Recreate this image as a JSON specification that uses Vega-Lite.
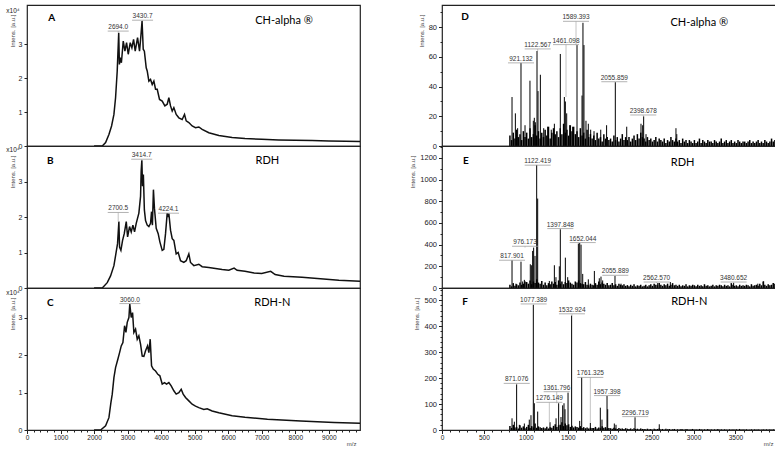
{
"$schema":"https://vega.github.io/schema/vega-lite/v6.json",
"background":"white",
"padding":{"left":5,"top":4,"right":4,"bottom":0},
"spacing":45,
"config":{
 "view":{"stroke":"#222","strokeWidth":1.2},
 "concat":{"spacing":0},
 "axis":{"labelFont":"Liberation Sans","titleFont":"Liberation Sans","labelColor":"#222","titleColor":"#444","titleFontWeight":"normal","tickColor":"#222","domain":false,"grid":false,"labelFlush":false,"labelOverlap":false},
 "text":{"font":"Liberation Sans"}
},
"datasets":{
 "left":[
  {"p":"A","x":2000,"y":0},{"p":"A","x":2244,"y":0},{"p":"A","x":2344,"y":0.1},{"p":"A","x":2443,"y":0.34},{"p":"A","x":2522,"y":0.59},{"p":"A","x":2592,"y":0.93},{"p":"A","x":2641,"y":1.42},{"p":"A","x":2690,"y":2.2},{"p":"A","x":2735,"y":3.33},{"p":"A","x":2755,"y":2.4},{"p":"A","x":2780,"y":2.6},{"p":"A","x":2815,"y":2.45},{"p":"A","x":2870,"y":3.09},{"p":"A","x":2920,"y":2.79},{"p":"A","x":2969,"y":3.04},{"p":"A","x":3019,"y":2.7},{"p":"A","x":3078,"y":3.04},{"p":"A","x":3128,"y":2.89},{"p":"A","x":3178,"y":3.14},{"p":"A","x":3227,"y":2.79},{"p":"A","x":3297,"y":3.19},{"p":"A","x":3356,"y":2.79},{"p":"A","x":3396,"y":3.24},{"p":"A","x":3431,"y":3.68},{"p":"A","x":3466,"y":2.85},{"p":"A","x":3500,"y":2.79},{"p":"A","x":3555,"y":2.3},{"p":"A","x":3585,"y":2.21},{"p":"A","x":3634,"y":1.91},{"p":"A","x":3684,"y":1.96},{"p":"A","x":3734,"y":1.81},{"p":"A","x":3783,"y":1.91},{"p":"A","x":3833,"y":1.67},{"p":"A","x":3883,"y":1.67},{"p":"A","x":3952,"y":1.37},{"p":"A","x":4032,"y":1.32},{"p":"A","x":4111,"y":1.18},{"p":"A","x":4181,"y":1.23},{"p":"A","x":4230,"y":1.42},{"p":"A","x":4280,"y":1.18},{"p":"A","x":4330,"y":1.03},{"p":"A","x":4379,"y":1.13},{"p":"A","x":4449,"y":0.93},{"p":"A","x":4528,"y":0.83},{"p":"A","x":4627,"y":0.78},{"p":"A","x":4697,"y":0.93},{"p":"A","x":4747,"y":0.74},{"p":"A","x":4826,"y":0.69},{"p":"A","x":4925,"y":0.59},{"p":"A","x":5025,"y":0.54},{"p":"A","x":5124,"y":0.56},{"p":"A","x":5223,"y":0.49},{"p":"A","x":5422,"y":0.39},{"p":"A","x":5720,"y":0.31},{"p":"A","x":6117,"y":0.25},{"p":"A","x":6500,"y":0.22},{"p":"A","x":7000,"y":0.2},{"p":"A","x":7500,"y":0.18},{"p":"A","x":8000,"y":0.17},{"p":"A","x":8500,"y":0.16},{"p":"A","x":9000,"y":0.15},{"p":"A","x":9500,"y":0.14},{"p":"A","x":9930,"y":0.13},
  {"p":"B","x":2000,"y":0},{"p":"B","x":2244,"y":0},{"p":"B","x":2393,"y":0.15},{"p":"B","x":2492,"y":0.34},{"p":"B","x":2592,"y":0.63},{"p":"B","x":2650,"y":0.96},{"p":"B","x":2700,"y":1.25},{"p":"B","x":2740,"y":1.87},{"p":"B","x":2760,"y":1.15},{"p":"B","x":2800,"y":1.06},{"p":"B","x":2850,"y":1.34},{"p":"B","x":2900,"y":1.53},{"p":"B","x":2960,"y":1.87},{"p":"B","x":3000,"y":1.44},{"p":"B","x":3058,"y":1.73},{"p":"B","x":3108,"y":1.58},{"p":"B","x":3158,"y":1.77},{"p":"B","x":3207,"y":1.58},{"p":"B","x":3257,"y":1.82},{"p":"B","x":3336,"y":2.11},{"p":"B","x":3386,"y":2.58},{"p":"B","x":3405,"y":3.3},{"p":"B","x":3425,"y":3.6},{"p":"B","x":3445,"y":2.87},{"p":"B","x":3470,"y":3.2},{"p":"B","x":3500,"y":2.2},{"p":"B","x":3535,"y":1.9},{"p":"B","x":3585,"y":1.77},{"p":"B","x":3634,"y":1.73},{"p":"B","x":3684,"y":1.82},{"p":"B","x":3714,"y":2.15},{"p":"B","x":3740,"y":1.77},{"p":"B","x":3770,"y":2.77},{"p":"B","x":3800,"y":2.25},{"p":"B","x":3853,"y":1.68},{"p":"B","x":3912,"y":1.53},{"p":"B","x":3962,"y":1.3},{"p":"B","x":4032,"y":1.06},{"p":"B","x":4081,"y":1.09},{"p":"B","x":4131,"y":1.53},{"p":"B","x":4181,"y":2.11},{"p":"B","x":4205,"y":2.0},{"p":"B","x":4230,"y":2.1},{"p":"B","x":4280,"y":1.63},{"p":"B","x":4330,"y":1.39},{"p":"B","x":4379,"y":1.34},{"p":"B","x":4449,"y":0.96},{"p":"B","x":4508,"y":1.0},{"p":"B","x":4578,"y":0.77},{"p":"B","x":4677,"y":0.72},{"p":"B","x":4747,"y":0.77},{"p":"B","x":4826,"y":0.96},{"p":"B","x":4876,"y":0.72},{"p":"B","x":4975,"y":0.63},{"p":"B","x":5124,"y":0.67},{"p":"B","x":5223,"y":0.6},{"p":"B","x":5422,"y":0.58},{"p":"B","x":5620,"y":0.55},{"p":"B","x":5819,"y":0.52},{"p":"B","x":6018,"y":0.5},{"p":"B","x":6176,"y":0.56},{"p":"B","x":6266,"y":0.5},{"p":"B","x":6500,"y":0.47},{"p":"B","x":6772,"y":0.42},{"p":"B","x":7000,"y":0.41},{"p":"B","x":7268,"y":0.47},{"p":"B","x":7400,"y":0.38},{"p":"B","x":7665,"y":0.33},{"p":"B","x":8200,"y":0.3},{"p":"B","x":8659,"y":0.27},{"p":"B","x":9300,"y":0.22},{"p":"B","x":9930,"y":0.19},
  {"p":"C","x":2000,"y":0},{"p":"C","x":2195,"y":0},{"p":"C","x":2344,"y":0.11},{"p":"C","x":2443,"y":0.33},{"p":"C","x":2502,"y":0.73},{"p":"C","x":2542,"y":0.96},{"p":"C","x":2592,"y":1.4},{"p":"C","x":2641,"y":1.67},{"p":"C","x":2711,"y":1.9},{"p":"C","x":2761,"y":2.07},{"p":"C","x":2810,"y":2.25},{"p":"C","x":2860,"y":2.34},{"p":"C","x":2910,"y":2.79},{"p":"C","x":2950,"y":2.61},{"p":"C","x":2989,"y":2.88},{"p":"C","x":3039,"y":3.01},{"p":"C","x":3065,"y":3.37},{"p":"C","x":3108,"y":3.01},{"p":"C","x":3148,"y":3.14},{"p":"C","x":3187,"y":2.61},{"p":"C","x":3237,"y":2.7},{"p":"C","x":3287,"y":2.43},{"p":"C","x":3336,"y":2.52},{"p":"C","x":3386,"y":2.3},{"p":"C","x":3436,"y":1.98},{"p":"C","x":3485,"y":1.97},{"p":"C","x":3535,"y":2.12},{"p":"C","x":3595,"y":2.25},{"p":"C","x":3634,"y":2.07},{"p":"C","x":3674,"y":2.43},{"p":"C","x":3714,"y":1.72},{"p":"C","x":3764,"y":1.63},{"p":"C","x":3833,"y":1.58},{"p":"C","x":3902,"y":1.49},{"p":"C","x":3962,"y":1.45},{"p":"C","x":4032,"y":1.23},{"p":"C","x":4101,"y":1.27},{"p":"C","x":4161,"y":1.23},{"p":"C","x":4230,"y":1.27},{"p":"C","x":4300,"y":1.18},{"p":"C","x":4379,"y":1.05},{"p":"C","x":4449,"y":0.96},{"p":"C","x":4528,"y":1.0},{"p":"C","x":4598,"y":1.09},{"p":"C","x":4657,"y":0.96},{"p":"C","x":4727,"y":0.87},{"p":"C","x":4826,"y":0.78},{"p":"C","x":4925,"y":0.69},{"p":"C","x":5025,"y":0.64},{"p":"C","x":5124,"y":0.6},{"p":"C","x":5273,"y":0.55},{"p":"C","x":5372,"y":0.57},{"p":"C","x":5521,"y":0.51},{"p":"C","x":5720,"y":0.46},{"p":"C","x":5919,"y":0.42},{"p":"C","x":6117,"y":0.38},{"p":"C","x":6500,"y":0.34},{"p":"C","x":7170,"y":0.29},{"p":"C","x":8162,"y":0.24},{"p":"C","x":9155,"y":0.2},{"p":"C","x":9930,"y":0.18}
 ],
 "noise":[
  {"x":810,"d":7,"e":30,"f":15},{"x":830,"d":4,"e":15,"f":8},{"x":850,"d":9,"e":45,"f":20},{"x":870,"d":5,"e":20,"f":10},{"x":890,"d":11,"e":35,"f":12},{"x":910,"d":6,"e":25,"f":6},{"x":930,"d":8,"e":50,"f":18},{"x":950,"d":4,"e":30,"f":9},{"x":970,"d":10,"e":40,"f":14},{"x":990,"d":6,"e":60,"f":7},
  {"x":1010,"d":9,"e":55,"f":12},{"x":1030,"d":5,"e":40,"f":20},{"x":1050,"d":12,"e":70,"f":8},{"x":1070,"d":6,"e":35,"f":15},{"x":1090,"d":8,"e":60,"f":10},{"x":1110,"d":14,"e":45,"f":25},{"x":1130,"d":7,"e":80,"f":9},{"x":1150,"d":10,"e":50,"f":14},{"x":1170,"d":5,"e":40,"f":11},{"x":1190,"d":9,"e":65,"f":8},
  {"x":1210,"d":6,"e":30,"f":10},{"x":1230,"d":11,"e":50,"f":7},{"x":1250,"d":7,"e":25,"f":13},{"x":1270,"d":13,"e":45,"f":6},{"x":1290,"d":5,"e":35,"f":11},{"x":1310,"d":9,"e":60,"f":9},{"x":1330,"d":12,"e":40,"f":16},{"x":1350,"d":8,"e":55,"f":22},{"x":1370,"d":10,"e":30,"f":12},{"x":1390,"d":6,"e":70,"f":18},
  {"x":1410,"d":12,"e":40,"f":20},{"x":1430,"d":8,"e":60,"f":30},{"x":1450,"d":15,"e":35,"f":15},{"x":1470,"d":9,"e":55,"f":25},{"x":1490,"d":11,"e":45,"f":18},{"x":1510,"d":7,"e":70,"f":22},{"x":1530,"d":14,"e":50,"f":12},{"x":1550,"d":10,"e":40,"f":16},{"x":1570,"d":13,"e":30,"f":10},{"x":1590,"d":8,"e":60,"f":14},
  {"x":1610,"d":10,"e":50,"f":12},{"x":1630,"d":6,"e":70,"f":9},{"x":1650,"d":12,"e":45,"f":15},{"x":1670,"d":7,"e":40,"f":8},{"x":1690,"d":9,"e":35,"f":11},{"x":1710,"d":5,"e":55,"f":7},{"x":1730,"d":11,"e":30,"f":10},{"x":1750,"d":6,"e":25,"f":6},{"x":1770,"d":8,"e":40,"f":9},{"x":1790,"d":5,"e":30,"f":8},
  {"x":1810,"d":7,"e":25,"f":8},{"x":1830,"d":4,"e":45,"f":12},{"x":1850,"d":9,"e":30,"f":6},{"x":1870,"d":5,"e":60,"f":10},{"x":1890,"d":6,"e":35,"f":7},{"x":1910,"d":3,"e":50,"f":14},{"x":1930,"d":8,"e":40,"f":9},{"x":1950,"d":5,"e":30,"f":11},{"x":1970,"d":6,"e":45,"f":6},{"x":1990,"d":4,"e":25,"f":8},
  {"x":2010,"d":5,"e":30,"f":7},{"x":2030,"d":3,"e":45,"f":5},{"x":2050,"d":7,"e":25,"f":9},{"x":2070,"d":4,"e":35,"f":6},{"x":2090,"d":6,"e":20,"f":4},{"x":2110,"d":3,"e":40,"f":8},{"x":2130,"d":5,"e":30,"f":5},{"x":2150,"d":8,"e":25,"f":6},{"x":2170,"d":4,"e":35,"f":4},{"x":2190,"d":6,"e":20,"f":7},
  {"x":2210,"d":4,"e":25,"f":5},{"x":2230,"d":6,"e":15,"f":4},{"x":2250,"d":3,"e":30,"f":6},{"x":2270,"d":5,"e":20,"f":3},{"x":2290,"d":7,"e":35,"f":7},{"x":2310,"d":4,"e":15,"f":4},{"x":2330,"d":8,"e":25,"f":5},{"x":2350,"d":5,"e":20,"f":3},{"x":2370,"d":9,"e":30,"f":6},{"x":2390,"d":6,"e":15,"f":4},
  {"x":2410,"d":5,"e":20,"f":4},{"x":2430,"d":3,"e":30,"f":3},{"x":2450,"d":6,"e":15,"f":5},{"x":2470,"d":4,"e":25,"f":3},{"x":2490,"d":5,"e":35,"f":4},{"x":2510,"d":3,"e":20,"f":2},{"x":2530,"d":4,"e":40,"f":5},{"x":2550,"d":6,"e":30,"f":3},{"x":2570,"d":3,"e":25,"f":4},{"x":2590,"d":5,"e":45,"f":6},
  {"x":2610,"d":4,"e":30,"f":3},{"x":2630,"d":3,"e":20,"f":4},{"x":2650,"d":5,"e":35,"f":2},{"x":2670,"d":2,"e":25,"f":5},{"x":2690,"d":4,"e":40,"f":3},{"x":2710,"d":3,"e":20,"f":4},{"x":2730,"d":6,"e":30,"f":2},{"x":2750,"d":4,"e":45,"f":3},{"x":2770,"d":3,"e":25,"f":4},{"x":2790,"d":5,"e":30,"f":2},
  {"x":2810,"d":3,"e":20,"f":3},{"x":2830,"d":4,"e":30,"f":2},{"x":2850,"d":2,"e":15,"f":4},{"x":2870,"d":5,"e":25,"f":3},{"x":2890,"d":3,"e":20,"f":2},{"x":2910,"d":4,"e":35,"f":4},{"x":2930,"d":2,"e":15,"f":3},{"x":2950,"d":4,"e":25,"f":2},{"x":2970,"d":3,"e":20,"f":3},{"x":2990,"d":2,"e":30,"f":4},
  {"x":3010,"d":4,"e":25,"f":2},{"x":3030,"d":2,"e":15,"f":3},{"x":3050,"d":3,"e":30,"f":2},{"x":3070,"d":5,"e":20,"f":4},{"x":3090,"d":2,"e":25,"f":3},{"x":3110,"d":4,"e":15,"f":2},{"x":3130,"d":3,"e":35,"f":3},{"x":3150,"d":2,"e":20,"f":2},{"x":3170,"d":4,"e":25,"f":4},{"x":3190,"d":3,"e":15,"f":2},
  {"x":3210,"d":3,"e":20,"f":3},{"x":3230,"d":2,"e":30,"f":2},{"x":3250,"d":4,"e":15,"f":3},{"x":3270,"d":3,"e":25,"f":2},{"x":3290,"d":2,"e":20,"f":4},{"x":3310,"d":3,"e":30,"f":2},{"x":3330,"d":5,"e":25,"f":3},{"x":3350,"d":2,"e":15,"f":2},{"x":3370,"d":3,"e":30,"f":3},{"x":3390,"d":4,"e":20,"f":2},
  {"x":3410,"d":2,"e":25,"f":2},{"x":3430,"d":3,"e":15,"f":3},{"x":3450,"d":4,"e":45,"f":2},{"x":3470,"d":2,"e":30,"f":3},{"x":3490,"d":3,"e":20,"f":2},{"x":3510,"d":2,"e":25,"f":3},{"x":3530,"d":4,"e":15,"f":2},{"x":3550,"d":3,"e":30,"f":4},{"x":3570,"d":2,"e":20,"f":2},{"x":3590,"d":3,"e":25,"f":3},
  {"x":3610,"d":3,"e":20,"f":2},{"x":3630,"d":2,"e":30,"f":3},{"x":3650,"d":3,"e":25,"f":2},{"x":3670,"d":4,"e":15,"f":2},{"x":3690,"d":2,"e":35,"f":3},{"x":3710,"d":3,"e":20,"f":2},{"x":3730,"d":2,"e":25,"f":3},{"x":3750,"d":3,"e":30,"f":2},{"x":3770,"d":4,"e":20,"f":3},{"x":3790,"d":2,"e":40,"f":2},
  {"x":3810,"d":3,"e":25,"f":2},{"x":3830,"d":2,"e":60,"f":3},{"x":3850,"d":4,"e":30,"f":2},{"x":3870,"d":3,"e":20,"f":3},{"x":3890,"d":2,"e":35,"f":2},{"x":3910,"d":3,"e":25,"f":3},{"x":3930,"d":5,"e":30,"f":2},{"x":3950,"d":3,"e":45,"f":3},{"x":3970,"d":4,"e":40,"f":2},{"x":3990,"d":6,"e":55,"f":4}
 ],
 "peaks":[
  {"p":"D","x":835,"y":33},{"p":"D","x":875,"y":22},{"p":"D","x":902,"y":12},{"p":"D","x":942,"y":56},{"p":"D","x":990,"y":14},{"p":"D","x":1049,"y":44},{"p":"D","x":1089,"y":17},{"p":"D","x":1101,"y":19},{"p":"D","x":1113,"y":16},{"p":"D","x":1133,"y":64},{"p":"D","x":1145,"y":37},{"p":"D","x":1173,"y":48},{"p":"D","x":1213,"y":12},{"p":"D","x":1260,"y":13},{"p":"D","x":1303,"y":11},{"p":"D","x":1340,"y":15},{"p":"D","x":1411,"y":62},{"p":"D","x":1459,"y":33},{"p":"D","x":1471,"y":30},{"p":"D","x":1487,"y":22},{"p":"D","x":1523,"y":14},{"p":"D","x":1558,"y":13},{"p":"D","x":1610,"y":68},{"p":"D","x":1670,"y":34},{"p":"D","x":1681,"y":83},{"p":"D","x":1693,"y":68},{"p":"D","x":1717,"y":17},{"p":"D","x":1745,"y":15},{"p":"D","x":1773,"y":11},{"p":"D","x":1813,"y":10},{"p":"D","x":1893,"y":11},{"p":"D","x":1963,"y":14},{"p":"D","x":2067,"y":43},{"p":"D","x":2203,"y":13},{"p":"D","x":2373,"y":15},{"p":"D","x":2393,"y":14},{"p":"D","x":2405,"y":20},{"p":"D","x":2433,"y":8},{"p":"D","x":2790,"y":12},{"p":"D","x":2800,"y":8},
  {"p":"E","x":835,"y":256},{"p":"E","x":882,"y":40},{"p":"E","x":942,"y":243},{"p":"E","x":962,"y":60},{"p":"E","x":982,"y":75},{"p":"E","x":1053,"y":219},{"p":"E","x":1069,"y":210},{"p":"E","x":1081,"y":342},{"p":"E","x":1093,"y":373},{"p":"E","x":1109,"y":296},{"p":"E","x":1129,"y":1135},{"p":"E","x":1141,"y":825},{"p":"E","x":1280,"y":65},{"p":"E","x":1340,"y":210},{"p":"E","x":1359,"y":100},{"p":"E","x":1399,"y":200},{"p":"E","x":1411,"y":542},{"p":"E","x":1471,"y":280},{"p":"E","x":1499,"y":100},{"p":"E","x":1626,"y":410},{"p":"E","x":1642,"y":415},{"p":"E","x":1658,"y":400},{"p":"E","x":1678,"y":130},{"p":"E","x":1745,"y":80},{"p":"E","x":1817,"y":157},{"p":"E","x":1876,"y":90},{"p":"E","x":1896,"y":105},{"p":"E","x":1916,"y":70},{"p":"E","x":2063,"y":111},{"p":"E","x":2135,"y":40},{"p":"E","x":2214,"y":25},{"p":"E","x":2572,"y":45},{"p":"E","x":2723,"y":55},{"p":"E","x":3478,"y":46},{"p":"E","x":3766,"y":40},{"p":"E","x":3836,"y":62},
  {"p":"F","x":835,"y":45},{"p":"F","x":863,"y":32},{"p":"F","x":890,"y":176},{"p":"F","x":922,"y":20},{"p":"F","x":982,"y":25},{"p":"F","x":1041,"y":40},{"p":"F","x":1061,"y":57},{"p":"F","x":1089,"y":482},{"p":"F","x":1101,"y":103},{"p":"F","x":1141,"y":71},{"p":"F","x":1288,"y":30},{"p":"F","x":1360,"y":45},{"p":"F","x":1391,"y":103},{"p":"F","x":1419,"y":50},{"p":"F","x":1439,"y":95},{"p":"F","x":1455,"y":103},{"p":"F","x":1467,"y":80},{"p":"F","x":1503,"y":144},{"p":"F","x":1546,"y":441},{"p":"F","x":1642,"y":35},{"p":"F","x":1666,"y":203},{"p":"F","x":1769,"y":27},{"p":"F","x":1888,"y":86},{"p":"F","x":1908,"y":40},{"p":"F","x":1968,"y":131},{"p":"F","x":1976,"y":80},{"p":"F","x":2055,"y":25},{"p":"F","x":2075,"y":20},{"p":"F","x":2302,"y":49},{"p":"F","x":2591,"y":22}
 ],
 "labels":[
  {"p":"A","t":"2694.0","x":2720,"y":3.5,"py":3.33},{"p":"A","t":"3430.7","x":3446,"y":3.82,"py":3.68},
  {"p":"B","t":"3414.7","x":3420,"y":3.74,"py":3.6},{"p":"B","t":"2700.5","x":2720,"y":2.24,"py":1.87},{"p":"B","t":"4224.1","x":4220,"y":2.22,"py":2.1},
  {"p":"C","t":"3060.0","x":3068,"y":3.49,"py":3.37},
  {"p":"D","t":"921.132","x":942,"y":58.7,"py":56},{"p":"D","t":"1122.567","x":1141,"y":68.1,"py":64},{"p":"D","t":"1461.098","x":1479,"y":71,"py":33},{"p":"D","t":"1589.393","x":1598,"y":86.7,"py":68},{"p":"D","t":"2055.859","x":2055,"y":46,"py":43},{"p":"D","t":"2398.678","x":2400,"y":23.6,"py":20},
  {"p":"E","t":"1122.419","x":1141,"y":1170,"py":1135},{"p":"E","t":"1397.848","x":1411,"y":585,"py":542},{"p":"E","t":"1652.044","x":1678,"y":456,"py":415},{"p":"E","t":"976.173","x":990,"y":422,"py":373},{"p":"E","t":"817.901","x":835,"y":293,"py":256},{"p":"E","t":"2055.889","x":2067,"y":154,"py":111},{"p":"E","t":"2562.570","x":2560,"y":92,"py":45},{"p":"E","t":"3480.652","x":3478,"y":92,"py":46},
  {"p":"F","t":"1077.389","x":1093,"y":501,"py":482},{"p":"F","t":"1532.924","x":1550,"y":463,"py":441},{"p":"F","t":"871.076","x":891,"y":195,"py":176},{"p":"F","t":"1361.796","x":1368,"y":163,"py":103},{"p":"F","t":"1276.149","x":1280,"y":122,"py":30},{"p":"F","t":"1761.325","x":1769,"y":218,"py":27},{"p":"F","t":"1957.398","x":1968,"y":148,"py":131},{"p":"F","t":"2296.719","x":2305,"y":67,"py":49}
 ]
},
"hconcat":[
 {"bounds":"flush","vconcat":[
  {"width":333,"height":141,"layer":[
   {"data":{"name":"left"},"transform":[{"filter":"datum.p==='A'"}],"mark":{"type":"line","color":"#111","strokeWidth":1.5},
    "encoding":{"x":{"field":"x","type":"quantitative","scale":{"domain":[0,9930],"nice":false,"zero":false},"axis":{"labels":false,"ticks":false,"title":null}},
     "y":{"field":"y","type":"quantitative","scale":{"domain":[0,4.15],"nice":false},"axis":{"values":[0,1,2,3],"tickCount":50,"format":"d","labelOverlap":false,"title":"Intens. [a.u.]","titleAnchor":"end","titleY":9,"titlePadding":3,"labelPadding":2,"tickSize":3,"labelFontSize":7,"titleFontSize":6}}}},
   {"data":{"name":"labels"},"transform":[{"filter":"datum.p==='A'"}],"mark":{"type":"rule","color":"#b5b5b5","strokeWidth":0.8,"yOffset":4},"encoding":{"x":{"field":"x","type":"quantitative"},"y":{"field":"y","type":"quantitative"},"y2":{"field":"py"}}},
   {"data":{"name":"labels"},"transform":[{"filter":"datum.p==='A'"}],"mark":{"type":"rule","color":"#a0a0a0","strokeWidth":0.8,"xOffset":-10.5,"x2Offset":10.5,"yOffset":4},"encoding":{"x":{"field":"x","type":"quantitative"},"x2":{"field":"x"},"y":{"field":"y","type":"quantitative"}}},
   {"data":{"name":"labels"},"transform":[{"filter":"datum.p==='A'"}],"mark":{"type":"text","fontSize":6.5,"color":"#333","baseline":"middle"},"encoding":{"x":{"field":"x","type":"quantitative"},"y":{"field":"y","type":"quantitative"},"text":{"field":"t"}}},
   {"data":{"values":[{}]},"mark":{"type":"text","fontSize":10,"fontWeight":"bold","font":"Lato","baseline":"middle"},"encoding":{"x":{"datum":736},"y":{"datum":3.76},"text":{"value":"A"}}},
   {"data":{"values":[{}]},"mark":{"type":"text","fontSize":11,"font":"Lato","baseline":"middle"},"encoding":{"x":{"datum":7665},"y":{"datum":3.68},"text":{"value":"CH-alpha ®"}}},
   {"data":{"values":[{}]},"mark":{"type":"text","fontSize":6.5,"baseline":"middle","color":"#222"},"encoding":{"x":{"datum":-420},"y":{"datum":3.97},"text":{"value":"x10⁴"}}}
  ]},
  {"width":333,"height":142,"layer":[
   {"data":{"name":"left"},"transform":[{"filter":"datum.p==='B'"}],"mark":{"type":"line","color":"#111","strokeWidth":1.5},
    "encoding":{"x":{"field":"x","type":"quantitative","scale":{"domain":[0,9930],"nice":false,"zero":false},"axis":{"labels":false,"ticks":false,"title":null}},
     "y":{"field":"y","type":"quantitative","scale":{"domain":[0,4.0],"nice":false},"axis":{"values":[0,1,2,3],"tickCount":50,"format":"d","labelOverlap":false,"title":"Intens. [a.u.]","titleAnchor":"end","titleY":9,"titlePadding":3,"labelPadding":2,"tickSize":3,"labelFontSize":7,"titleFontSize":6}}}},
   {"data":{"name":"labels"},"transform":[{"filter":"datum.p==='B'"}],"mark":{"type":"rule","color":"#b5b5b5","strokeWidth":0.8,"yOffset":4},"encoding":{"x":{"field":"x","type":"quantitative"},"y":{"field":"y","type":"quantitative"},"y2":{"field":"py"}}},
   {"data":{"name":"labels"},"transform":[{"filter":"datum.p==='B'"}],"mark":{"type":"rule","color":"#a0a0a0","strokeWidth":0.8,"xOffset":-10.5,"x2Offset":10.5,"yOffset":4},"encoding":{"x":{"field":"x","type":"quantitative"},"x2":{"field":"x"},"y":{"field":"y","type":"quantitative"}}},
   {"data":{"name":"labels"},"transform":[{"filter":"datum.p==='B'"}],"mark":{"type":"text","fontSize":6.5,"color":"#333","baseline":"middle"},"encoding":{"x":{"field":"x","type":"quantitative"},"y":{"field":"y","type":"quantitative"},"text":{"field":"t"}}},
   {"data":{"values":[{}]},"mark":{"type":"text","fontSize":10,"fontWeight":"bold","font":"Lato","baseline":"middle"},"encoding":{"x":{"datum":695},"y":{"datum":3.57},"text":{"value":"B"}}},
   {"data":{"values":[{}]},"mark":{"type":"text","fontSize":11,"font":"Lato","baseline":"middle"},"encoding":{"x":{"datum":7170},"y":{"datum":3.57},"text":{"value":"RDH"}}},
   {"data":{"values":[{}]},"mark":{"type":"text","fontSize":6.5,"baseline":"middle","color":"#222"},"encoding":{"x":{"datum":-420},"y":{"datum":3.9},"text":{"value":"x10⁴"}}}
  ]},
  {"width":333,"height":142,"layer":[
   {"data":{"name":"left"},"transform":[{"filter":"datum.p==='C'"}],"mark":{"type":"line","color":"#111","strokeWidth":1.5},
    "encoding":{"x":{"field":"x","type":"quantitative","scale":{"domain":[0,9930],"nice":false,"zero":false},"axis":{"values":[0,200,400,600,800,1000,1200,1400,1600,1800,2000,2200,2400,2600,2800,3000,3200,3400,3600,3800,4000,4200,4400,4600,4800,5000,5200,5400,5600,5800,6000,6200,6400,6600,6800,7000,7200,7400,7600,7800,8000,8200,8400,8600,8800,9000,9200,9400,9600,9800],"tickCount":200,"format":"d","labelOverlap":false,"labelExpr":"datum.value % 1000 === 0 ? datum.label : ''","tickSize":{"condition":{"test":"datum.value % 1000 === 0","value":3.5},"value":2},"title":"m/z","titleAnchor":"end","titleAlign":"right","titleX":329,"titleBaseline":"middle","titleY":13,"labelFontSize":6.5,"labelPadding":1,"titleFontSize":6}},
     "y":{"field":"y","type":"quantitative","scale":{"domain":[0,3.8],"nice":false},"axis":{"values":[0,1,2,3],"tickCount":50,"format":"d","labelOverlap":false,"title":"Intens. [a.u.]","titleAnchor":"end","titleY":9,"titlePadding":3,"labelPadding":2,"tickSize":3,"labelFontSize":7,"titleFontSize":6}}}},
   {"data":{"name":"labels"},"transform":[{"filter":"datum.p==='C'"}],"mark":{"type":"rule","color":"#b5b5b5","strokeWidth":0.8,"yOffset":4},"encoding":{"x":{"field":"x","type":"quantitative"},"y":{"field":"y","type":"quantitative"},"y2":{"field":"py"}}},
   {"data":{"name":"labels"},"transform":[{"filter":"datum.p==='C'"}],"mark":{"type":"rule","color":"#a0a0a0","strokeWidth":0.8,"xOffset":-10.5,"x2Offset":10.5,"yOffset":4},"encoding":{"x":{"field":"x","type":"quantitative"},"x2":{"field":"x"},"y":{"field":"y","type":"quantitative"}}},
   {"data":{"name":"labels"},"transform":[{"filter":"datum.p==='C'"}],"mark":{"type":"text","fontSize":6.5,"color":"#333","baseline":"middle"},"encoding":{"x":{"field":"x","type":"quantitative"},"y":{"field":"y","type":"quantitative"},"text":{"field":"t"}}},
   {"data":{"values":[{}]},"mark":{"type":"text","fontSize":10,"fontWeight":"bold","font":"Lato","baseline":"middle"},"encoding":{"x":{"datum":695},"y":{"datum":3.4},"text":{"value":"C"}}},
   {"data":{"values":[{}]},"mark":{"type":"text","fontSize":11,"font":"Lato","baseline":"middle"},"encoding":{"x":{"datum":7319},"y":{"datum":3.4},"text":{"value":"RDH-N"}}},
   {"data":{"values":[{}]},"mark":{"type":"text","fontSize":6.5,"baseline":"middle","color":"#222"},"encoding":{"x":{"datum":-420},"y":{"datum":3.66},"text":{"value":"x10⁴"}}}
  ]}
 ]},
 {"bounds":"flush","vconcat":[
  {"width":335,"height":141,"layer":[
   {"data":{"name":"noise"},"mark":{"type":"rule","color":"#000","strokeWidth":1.5},
    "encoding":{"x":{"field":"x","type":"quantitative","scale":{"domain":[0,3995],"nice":false,"zero":false},"axis":{"labels":false,"ticks":false,"title":null}},
     "y":{"field":"d","type":"quantitative","scale":{"domain":[0,95],"nice":false},"axis":{"values":[0,10,20,30,40,50,60,70,80,90],"tickCount":200,"format":"d","labelOverlap":false,"labelExpr":"datum.value % 20 === 0 ? datum.label : ''","tickSize":{"condition":{"test":"datum.value % 20 === 0","value":3.5},"value":2},"title":"Intens. [a.u.]","titleAnchor":"end","titleY":9,"titlePadding":4,"labelPadding":2,"labelFontSize":7.5,"titleFontSize":6}},
     "y2":{"datum":0}}},
   {"data":{"name":"peaks"},"transform":[{"filter":"datum.p==='D'"}],"mark":{"type":"rule","color":"#000","strokeWidth":1},"encoding":{"x":{"field":"x","type":"quantitative"},"y":{"field":"y","type":"quantitative"},"y2":{"datum":0}}},
   {"data":{"name":"labels"},"transform":[{"filter":"datum.p==='D'"}],"mark":{"type":"rule","color":"#b5b5b5","strokeWidth":0.8,"yOffset":4},"encoding":{"x":{"field":"x","type":"quantitative"},"y":{"field":"y","type":"quantitative"},"y2":{"field":"py"}}},
   {"data":{"name":"labels"},"transform":[{"filter":"datum.p==='D'"}],"mark":{"type":"rule","color":"#a0a0a0","strokeWidth":0.8,"xOffset":-13,"x2Offset":13,"yOffset":4},"encoding":{"x":{"field":"x","type":"quantitative"},"x2":{"field":"x"},"y":{"field":"y","type":"quantitative"}}},
   {"data":{"name":"labels"},"transform":[{"filter":"datum.p==='D'"}],"mark":{"type":"text","fontSize":6.5,"color":"#333","baseline":"middle"},"encoding":{"x":{"field":"x","type":"quantitative"},"y":{"field":"y","type":"quantitative"},"text":{"field":"t"}}},
   {"data":{"values":[{}]},"mark":{"type":"text","fontSize":10,"fontWeight":"bold","font":"Lato","baseline":"middle"},"encoding":{"x":{"datum":274},"y":{"datum":86.7},"text":{"value":"D"}}},
   {"data":{"values":[{}]},"mark":{"type":"text","fontSize":11,"font":"Lato","baseline":"middle"},"encoding":{"x":{"datum":3068},"y":{"datum":82.7},"text":{"value":"CH-alpha ®"}}}
  ]},
  {"width":335,"height":142,"layer":[
   {"data":{"name":"noise"},"mark":{"type":"rule","color":"#000","strokeWidth":1.5},
    "encoding":{"x":{"field":"x","type":"quantitative","scale":{"domain":[0,3995],"nice":false,"zero":false},"axis":{"labels":false,"ticks":false,"title":null}},
     "y":{"field":"e","type":"quantitative","scale":{"domain":[0,1310],"nice":false},"axis":{"values":[0,100,200,300,400,500,600,700,800,900,1000,1100,1200,1300],"tickCount":200,"format":"d","labelOverlap":false,"labelExpr":"datum.value % 200 === 0 ? datum.label : ''","tickSize":{"condition":{"test":"datum.value % 200 === 0","value":3.5},"value":2},"title":"Intens. [a.u.]","titleAnchor":"end","titleY":9,"titlePadding":4,"labelPadding":2,"labelFontSize":7.5,"titleFontSize":6}},
     "y2":{"datum":0}}},
   {"data":{"name":"peaks"},"transform":[{"filter":"datum.p==='E'"}],"mark":{"type":"rule","color":"#000","strokeWidth":1},"encoding":{"x":{"field":"x","type":"quantitative"},"y":{"field":"y","type":"quantitative"},"y2":{"datum":0}}},
   {"data":{"name":"labels"},"transform":[{"filter":"datum.p==='E'"}],"mark":{"type":"rule","color":"#b5b5b5","strokeWidth":0.8,"yOffset":4},"encoding":{"x":{"field":"x","type":"quantitative"},"y":{"field":"y","type":"quantitative"},"y2":{"field":"py"}}},
   {"data":{"name":"labels"},"transform":[{"filter":"datum.p==='E'"}],"mark":{"type":"rule","color":"#a0a0a0","strokeWidth":0.8,"xOffset":-13,"x2Offset":13,"yOffset":4},"encoding":{"x":{"field":"x","type":"quantitative"},"x2":{"field":"x"},"y":{"field":"y","type":"quantitative"}}},
   {"data":{"name":"labels"},"transform":[{"filter":"datum.p==='E'"}],"mark":{"type":"text","fontSize":6.5,"color":"#333","baseline":"middle"},"encoding":{"x":{"field":"x","type":"quantitative"},"y":{"field":"y","type":"quantitative"},"text":{"field":"t"}}},
   {"data":{"values":[{}]},"mark":{"type":"text","fontSize":10,"fontWeight":"bold","font":"Lato","baseline":"middle"},"encoding":{"x":{"datum":286},"y":{"datum":1176},"text":{"value":"E"}}},
   {"data":{"values":[{}]},"mark":{"type":"text","fontSize":11,"font":"Lato","baseline":"middle"},"encoding":{"x":{"datum":2870},"y":{"datum":1154},"text":{"value":"RDH"}}}
  ]},
  {"width":335,"height":142,"layer":[
   {"data":{"name":"noise"},"mark":{"type":"rule","color":"#000","strokeWidth":1.5},
    "encoding":{"x":{"field":"x","type":"quantitative","scale":{"domain":[0,3995],"nice":false,"zero":false},"axis":{"values":[0,100,200,300,400,500,600,700,800,900,1000,1100,1200,1300,1400,1500,1600,1700,1800,1900,2000,2100,2200,2300,2400,2500,2600,2700,2800,2900,3000,3100,3200,3300,3400,3500,3600,3700,3800,3900],"tickCount":200,"format":"d","labelOverlap":false,"labelExpr":"datum.value % 500 === 0 ? datum.label : ''","tickSize":{"condition":{"test":"datum.value % 500 === 0","value":3.5},"value":2},"title":"m/z","titleAnchor":"end","titleAlign":"right","titleX":331,"titleBaseline":"middle","titleY":13,"labelFontSize":6.5,"labelPadding":1,"titleFontSize":6}},
     "y":{"field":"f","type":"quantitative","scale":{"domain":[0,547],"nice":false},"axis":{"values":[0,20,40,60,80,100,120,140,160,180,200,220,240,260,280,300,320,340,360,380,400,420,440,460,480,500,520,540],"tickCount":200,"format":"d","labelOverlap":false,"labelExpr":"datum.value % 100 === 0 ? datum.label : ''","tickSize":{"condition":{"test":"datum.value % 100 === 0","value":3.5},"value":2},"title":"Intens. [a.u.]","titleAnchor":"end","titleY":9,"titlePadding":4,"labelPadding":2,"labelFontSize":7.5,"titleFontSize":6}},
     "y2":{"datum":0}}},
   {"data":{"name":"peaks"},"transform":[{"filter":"datum.p==='F'"}],"mark":{"type":"rule","color":"#000","strokeWidth":1},"encoding":{"x":{"field":"x","type":"quantitative"},"y":{"field":"y","type":"quantitative"},"y2":{"datum":0}}},
   {"data":{"name":"labels"},"transform":[{"filter":"datum.p==='F'"}],"mark":{"type":"rule","color":"#b5b5b5","strokeWidth":0.8,"yOffset":4},"encoding":{"x":{"field":"x","type":"quantitative"},"y":{"field":"y","type":"quantitative"},"y2":{"field":"py"}}},
   {"data":{"name":"labels"},"transform":[{"filter":"datum.p==='F'"}],"mark":{"type":"rule","color":"#a0a0a0","strokeWidth":0.8,"xOffset":-13,"x2Offset":13,"yOffset":4},"encoding":{"x":{"field":"x","type":"quantitative"},"x2":{"field":"x"},"y":{"field":"y","type":"quantitative"}}},
   {"data":{"name":"labels"},"transform":[{"filter":"datum.p==='F'"}],"mark":{"type":"text","fontSize":6.5,"color":"#333","baseline":"middle"},"encoding":{"x":{"field":"x","type":"quantitative"},"y":{"field":"y","type":"quantitative"},"text":{"field":"t"}}},
   {"data":{"values":[{}]},"mark":{"type":"text","fontSize":10,"fontWeight":"bold","font":"Lato","baseline":"middle"},"encoding":{"x":{"datum":274},"y":{"datum":492},"text":{"value":"F"}}},
   {"data":{"values":[{}]},"mark":{"type":"text","fontSize":11,"font":"Lato","baseline":"middle"},"encoding":{"x":{"datum":2949},"y":{"datum":492},"text":{"value":"RDH-N"}}}
  ]}
 ]}
]
}
